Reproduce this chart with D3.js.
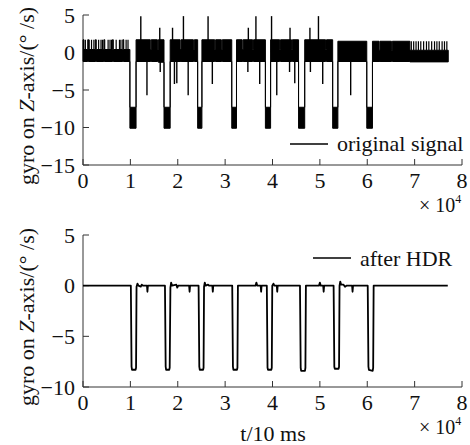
<!DOCTYPE html>
<html><head><meta charset="utf-8">
<script src="https://cdn.jsdelivr.net/npm/d3@7"></script>
<style>
body{margin:0;background:#fff}
svg{display:block}
text{font-family:"Liberation Serif","Times New Roman",serif;fill:#111}
</style>
</head><body>
<svg id="c" width="470" height="445"></svg>
<script>
// ---------- data ----------
const xTicks = [0, 1, 2, 3, 4, 5, 6, 7, 8];
const yTicksTop = [5, 0, -5, -10, -15];
const yTicksBottom = [5, 0, -5, -10];

// original signal drawn as a dense band: segment start (t, ×10^4), upper edge, lower edge
const segT  = [0.00,0.02,0.10,0.12,0.26,0.28,0.44,0.46,0.62,0.64,0.84,0.86,
               0.99,1.12,1.42,1.44,1.57,1.59,
               1.71,1.84,2.05,2.07,2.33,2.35,
               2.42,2.51,2.78,2.80,2.92,2.94,
               3.14,3.24,3.36,3.38,3.58,3.60,
               3.85,3.96,4.15,4.17,4.40,4.42,
               4.55,4.68,5.12,5.14,
               5.27,5.38,
               5.99,6.11,6.25,6.27,6.51,6.53,6.90];
const segHi = [1.7,0.4,1.7,0.4,1.7,0.4,1.7,0.4,1.7,0.4,1.7,0.4,
               -7.3,1.7,0.4,1.7,0.4,1.7,
               -7.3,1.7,0.4,1.7,0.4,1.7,
               -7.3,1.7,0.4,1.7,0.4,1.7,
               -7.3,1.7,0.4,1.7,0.4,1.7,
               -7.3,1.7,0.4,1.7,0.4,1.7,
               -7.3,1.7,0.4,1.7,
               -7.3,1.5,
               -7.3,1.5,0.3,1.5,0.3,1.5,0.3];
const segLo = [-1.2,-1.2,-1.2,-1.2,-1.2,-1.2,-1.2,-1.2,-1.2,-1.2,-1.2,-1.2,
               -10.1,-1.2,-1.2,-1.2,-1.2,-1.3,
               -10.1,-1.2,-1.2,-1.2,-1.2,-1.2,
               -10.1,-1.2,-1.2,-1.2,-1.2,-1.2,
               -10.1,-1.2,-1.2,-1.2,-1.2,-1.2,
               -10.1,-1.2,-1.2,-1.2,-1.2,-1.2,
               -10.1,-1.2,-1.2,-1.2,
               -10.1,-1.2,
               -10.1,-1.2,-1.2,-1.2,-1.2,-1.2,-1.25];
const segEnd = 7.71;

// comb teeth on top of the band
const toothT = [0.05,0.13,0.18,0.23,0.33,0.38,0.41,0.53,0.57,0.60,0.70,0.77,0.80,0.91,0.95,
                6.93,6.98,7.03,7.08,7.13,7.19,7.25,7.30,7.36,7.42,7.47,7.52,7.58,7.63,7.68];
const toothV = [1.7,1.7,1.7,1.7,1.7,1.7,1.7,1.7,1.7,1.7,1.7,1.7,1.7,1.7,1.7,
                1.5,1.5,1.5,1.5,1.5,1.5,1.5,1.5,1.5,1.5,1.5,1.5,1.5,1.5,1.5];

// isolated spikes
const spikeT = [1.22,1.35,1.62,1.63,1.89,1.93,1.98,2.12,2.22,2.64,2.73,3.49,3.48,3.65,3.73,
                3.98,4.09,4.37,4.36,4.47,4.79,4.80,4.97,5.06,5.65];
const spikeV = [4.85,-5.7,3.3,-2.6,3.3,-4.2,-4.1,4.85,-5.7,4.85,-4.2,3.3,-2.6,4.85,-4.2,
                4.85,-5.7,3.3,-2.6,-4.1,3.3,-2.6,4.85,-4.2,-5.7];

// after HDR
const hdrT = [0,1.01,1.025,1.035,1.11,1.12,1.13,1.15,1.17,1.22,1.24,1.27,1.35,1.36,1.37,
              1.73,1.745,1.755,1.82,1.83,1.845,1.86,1.88,1.97,1.99,2.01,2.24,2.25,2.26,
              2.44,2.455,2.465,2.535,2.545,2.555,2.57,2.59,2.64,2.66,2.73,2.74,2.75,
              3.15,3.165,3.175,3.25,3.26,3.27,3.64,3.66,3.68,3.75,3.76,3.77,
              3.88,3.895,3.905,3.975,3.985,3.995,4.02,4.04,4.09,4.10,4.11,
              4.58,4.595,4.605,4.685,4.695,4.705,4.98,5.00,5.02,5.07,5.08,5.09,
              5.29,5.305,5.315,5.395,5.405,5.415,5.43,5.45,5.50,5.53,5.56,5.68,5.69,5.70,
              6.01,6.025,6.035,6.115,6.125,6.135,7.70];
const hdrV = [0,0,-8.0,-8.3,-8.3,-8.1,-0.1,0.2,0,-0.1,0.1,0,0,-0.6,0,
              0,-8.0,-8.3,-8.3,-8.1,-0.2,0.3,0,0.1,-0.2,0,0,-0.6,0,
              0,-8.0,-8.3,-8.3,-8.1,-0.1,0.3,0,0.1,0,0,-0.6,0,
              0,-8.0,-8.3,-8.3,-8.1,0,0,0.3,0,0,-0.6,0,
              0,-8.1,-8.3,-8.3,-8.1,0,0.2,0,0,-0.6,0,
              0,-8.1,-8.4,-8.4,-8.1,0,0,0.3,0,0,-0.6,0,
              0,-8.0,-8.2,-8.2,-8.0,0,0.4,0.1,0.1,-0.1,0,0,-0.6,0,
              0,-8.0,-8.3,-8.4,-8.1,0,0];

// ---------- drawing ----------
const svg = d3.select("#c");
const FS = 22;
const axisColor = "#333";

function panel(top, bottom, yDomain, yTicks) {
  const x = d3.scaleLinear().domain([0, 8]).range([83, 462]);
  const y = d3.scaleLinear().domain(yDomain).range([bottom, top]);
  const g = svg.append("g");
  // axes lines
  g.append("line").attr("x1", x(0)).attr("x2", x(8)).attr("y1", y(yDomain[0])).attr("y2", y(yDomain[0]))
    .attr("stroke", axisColor).attr("stroke-width", 1);
  g.append("line").attr("x1", x(0)).attr("x2", x(0)).attr("y1", y(yDomain[0])).attr("y2", y(yDomain[1]))
    .attr("stroke", axisColor).attr("stroke-width", 1);
  // x ticks inward
  g.selectAll(".xt").data(xTicks).enter().append("line")
    .attr("x1", d => x(d)).attr("x2", d => x(d))
    .attr("y1", y(yDomain[0])).attr("y2", y(yDomain[0]) - 6)
    .attr("stroke", axisColor);
  g.selectAll(".xl").data(xTicks).enter().append("text")
    .attr("x", d => x(d)).attr("y", y(yDomain[0]) + 23)
    .attr("text-anchor", "middle").attr("font-size", FS).text(d => d);
  // y ticks inward
  g.selectAll(".yt").data(yTicks).enter().append("line")
    .attr("x1", x(0)).attr("x2", x(0) + 6)
    .attr("y1", d => y(d)).attr("y2", d => y(d))
    .attr("stroke", axisColor);
  g.selectAll(".yl").data(yTicks).enter().append("text")
    .attr("x", x(0) - 8).attr("y", d => y(d) + 7.5)
    .attr("text-anchor", "end").attr("font-size", FS)
    .text(d => d < 0 ? "\u2212" + Math.abs(d) : d);
  // y label
  const cy = (top + bottom) / 2 + 6;
  const yl = g.append("text").attr("transform", `translate(34,${cy}) rotate(-90)`)
    .attr("text-anchor", "middle").attr("font-size", FS);
  yl.append("tspan").text("gyro on ");
  yl.append("tspan").attr("font-style", "italic").text("Z");
  yl.append("tspan").text("-axis/(\u00b0 /s)");
  // ×10^4
  const ex = g.append("text").attr("x", 419).attr("y", y(yDomain[0]) + 47).attr("font-size", 20);
  ex.append("tspan").text("\u00d7 10");
  ex.append("tspan").attr("font-size", 12).attr("dy", -9).text("4");
  return { x, y, g };
}

// ---- top panel ----
const P1 = panel(15, 165, [-15, 5], yTicksTop);
const bandData = segT.map((t, i) => ({ t, hi: segHi[i], lo: segLo[i] }));
bandData.push({ t: segEnd, hi: segHi[segHi.length - 1], lo: segLo[segLo.length - 1] });
const area = d3.area().curve(d3.curveStepAfter)
  .x(d => P1.x(d.t)).y0(d => P1.y(d.lo)).y1(d => P1.y(d.hi));
P1.g.append("path").datum(bandData).attr("d", area)
  .attr("fill", "#000").attr("stroke", "#000").attr("stroke-width", 1);
P1.g.selectAll(".tooth").data(toothT).enter().append("line")
  .attr("x1", d => P1.x(d)).attr("x2", d => P1.x(d))
  .attr("y1", P1.y(0.3)).attr("y2", (d, i) => P1.y(toothV[i]))
  .attr("stroke", "#000").attr("stroke-width", 1.2);
P1.g.selectAll(".spike").data(spikeT).enter().append("line")
  .attr("x1", d => P1.x(d)).attr("x2", d => P1.x(d))
  .attr("y1", P1.y(0)).attr("y2", (d, i) => P1.y(spikeV[i]))
  .attr("stroke", "#000").attr("stroke-width", 1.4);
// legend
P1.g.append("line").attr("x1", 290).attr("x2", 328).attr("y1", 144).attr("y2", 144)
  .attr("stroke", "#000").attr("stroke-width", 1.3);
P1.g.append("text").attr("x", 337).attr("y", 151).attr("font-size", FS).text("original signal");

// ---- bottom panel ----
const P2 = panel(235, 387, [-10, 5], yTicksBottom);
const hdr = hdrT.map((t, i) => ({ t, v: hdrV[i] }));
P2.g.append("path").datum(hdr)
  .attr("d", d3.line().x(d => P2.x(d.t)).y(d => P2.y(d.v)))
  .attr("fill", "none").attr("stroke", "#000").attr("stroke-width", 1.8)
  .attr("stroke-linejoin", "round");
P2.g.append("line").attr("x1", 313).attr("x2", 351).attr("y1", 258).attr("y2", 258)
  .attr("stroke", "#000").attr("stroke-width", 1.3);
P2.g.append("text").attr("x", 360).attr("y", 266).attr("font-size", FS).text("after HDR");

// x label
svg.append("text").attr("x", 273).attr("y", 441).attr("text-anchor", "middle")
  .attr("font-size", FS).text("t/10 ms");
</script>
</body></html>
